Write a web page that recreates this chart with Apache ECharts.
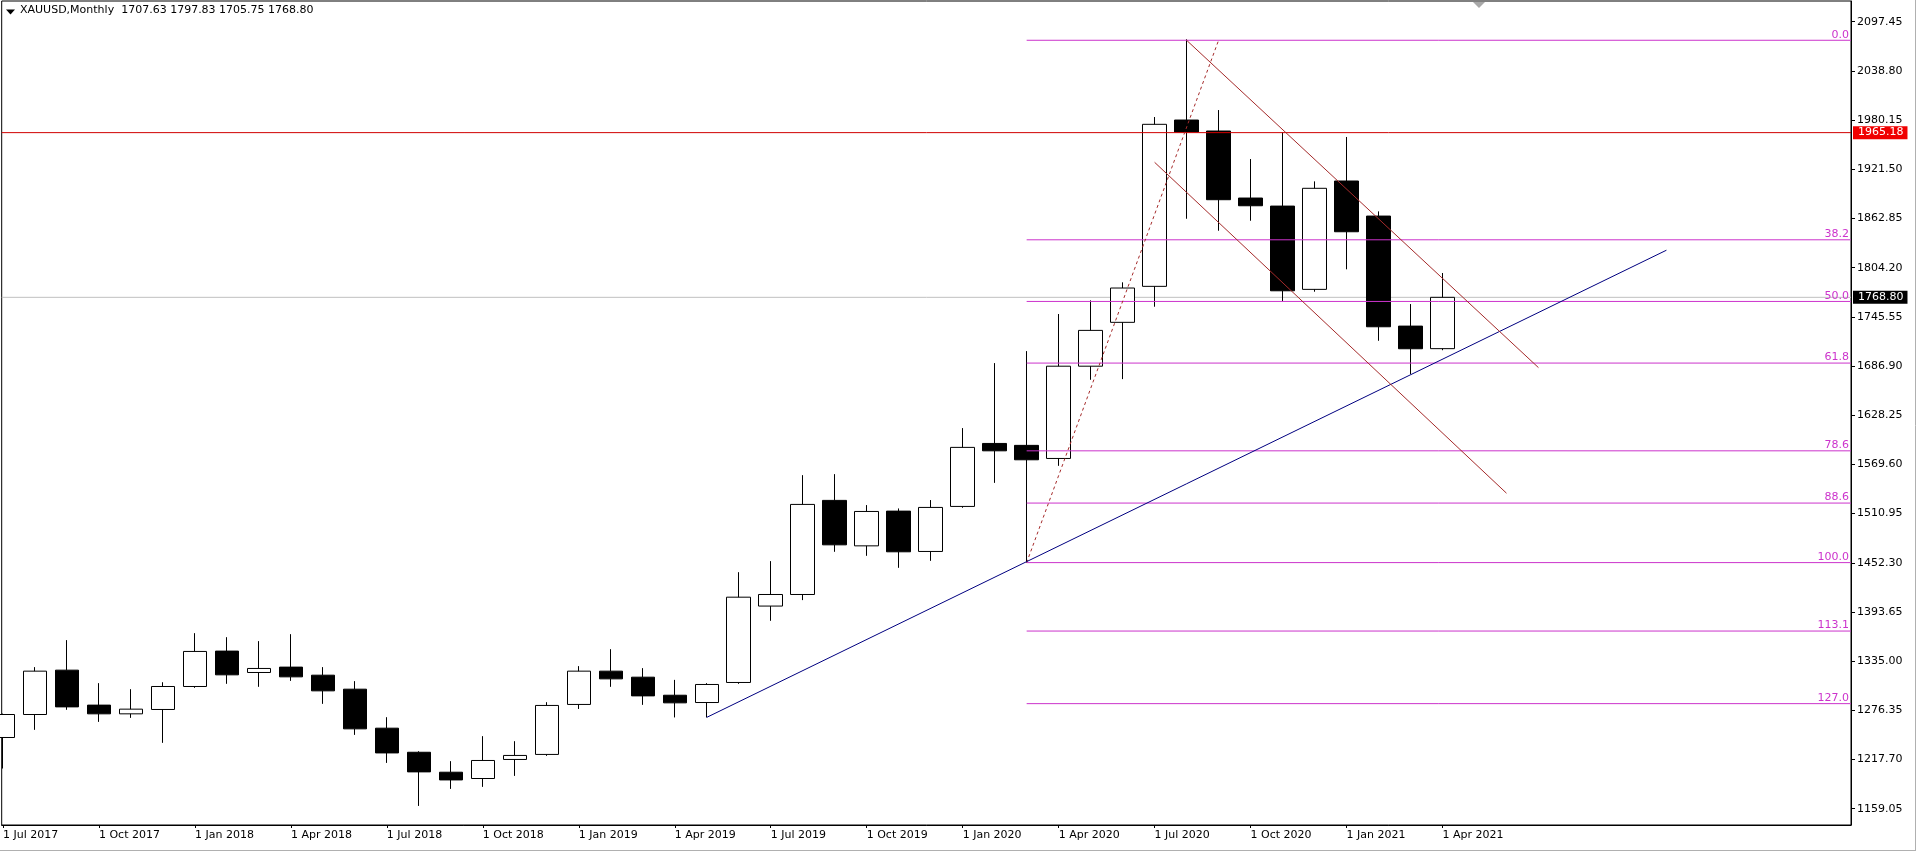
<!DOCTYPE html>
<html><head><meta charset="utf-8">
<script src="https://cdn.jsdelivr.net/npm/echarts@6/dist/echarts.min.js"></script>
<style>html,body{margin:0;padding:0;background:#fff;overflow:hidden;} #c{width:1918px;height:853px;}</style>
</head><body><div id="c"></div>
<script>
// ---- data (monthly XAUUSD, Jul 2017 .. Apr 2021) ----
const months = ['Jul 2017','Aug 2017','Sep 2017','Oct 2017','Nov 2017','Dec 2017',
  'Jan 2018','Feb 2018','Mar 2018','Apr 2018','May 2018','Jun 2018','Jul 2018','Aug 2018','Sep 2018','Oct 2018','Nov 2018','Dec 2018',
  'Jan 2019','Feb 2019','Mar 2019','Apr 2019','May 2019','Jun 2019','Jul 2019','Aug 2019','Sep 2019','Oct 2019','Nov 2019','Dec 2019',
  'Jan 2020','Feb 2020','Mar 2020','Apr 2020','May 2020','Jun 2020','Jul 2020','Aug 2020','Sep 2020','Oct 2020','Nov 2020','Dec 2020',
  'Jan 2021','Feb 2021','Mar 2021','Apr 2021'];
const opens  = [1244.0,1271.4,1324.3,1282.6,1272.2,1277.4,1304.8,1347.0,1321.5,1327.9,1318.3,1301.6,1255.1,1226.4,1202.6,1195.1,1217.8,1223.8,
  1283.4,1323.1,1315.9,1294.4,1285.7,1309.6,1400.7,1414.5,1526.7,1472.5,1513.9,1465.8,
  1519.5,1594.6,1592.3,1576.7,1686.7,1739.0,1781.9,1980.2,1967.1,1887.2,1877.6,1778.3,1907.5,1865.7,1734.5,1707.63];
const highs  = [1272.5,1327.9,1360.1,1308.8,1301.6,1309.9,1368.4,1363.6,1358.9,1367.2,1327.9,1311.2,1268.2,1227.6,1215.8,1245.6,1239.6,1286.1,
  1329.1,1349.3,1326.7,1312.7,1308.8,1441.1,1454.3,1556.8,1558.0,1521.1,1517.1,1527.1,
  1612.9,1690.4,1704.7,1748.9,1765.2,1786.7,1983.8,2076.5,1992.1,1933.7,1965.5,1907.1,1960.0,1871.3,1760.8,1797.83];
const lows   = [1207.0,1253.1,1277.0,1262.6,1267.4,1237.6,1303.2,1308.0,1304.4,1311.5,1284.1,1247.1,1213.7,1162.4,1182.7,1185.1,1198.2,1222.1,
  1278.0,1304.4,1282.9,1267.9,1267.9,1308.0,1383.1,1407.8,1465.4,1460.6,1446.3,1454.6,
  1517.9,1547.6,1452.7,1567.9,1670.5,1671.3,1757.6,1862.5,1848.2,1860.1,1764.3,1775.5,1802.2,1717.0,1677.3,1705.75];
const closes = [1271.4,1323.1,1280.5,1272.2,1277.8,1304.8,1346.6,1318.7,1326.3,1316.3,1299.6,1254.3,1225.6,1203.0,1193.4,1216.6,1222.6,1282.2,
  1323.1,1313.9,1293.6,1285.3,1307.2,1411.3,1414.5,1521.9,1473.7,1513.5,1465.4,1518.3,
  1589.9,1585.8,1575.1,1686.7,1729.4,1779.9,1975.1,1965.9,1885.2,1878.0,1776.6,1898.8,1847.0,1733.7,1707.5,1768.80];

const xTickIdx    = [0,3,6,9,12,15,18,21,24,27,30,33,36,39,42,45];
const xTickLabels = ['1 Jul 2017','1 Oct 2017','1 Jan 2018','1 Apr 2018','1 Jul 2018','1 Oct 2018','1 Jan 2019','1 Apr 2019',
  '1 Jul 2019','1 Oct 2019','1 Jan 2020','1 Apr 2020','1 Jul 2020','1 Oct 2020','1 Jan 2021','1 Apr 2021'];
const yTicks = [1159.05,1217.70,1276.35,1335.00,1393.65,1452.30,1510.95,1569.60,1628.25,1686.90,1745.55,1804.20,1862.85,1921.50,1980.15,2038.80,2097.45];

const fibLevels = [0, 38.2, 50, 61.8, 78.6, 88.6, 100, 113.1, 127];
const fibHigh = 2075.3, fibLow = 1452.5, fibStartIdx = 32;
const fibBase      = [[32, 1452.5], [38, 2075.3]];
const trendBlue    = [[22, 1268.0], [52, 1825.0]];
const channelUpper = [[37, 2075.3], [48, 1685.0]];
const channelLower = [[36, 1929.8], [47, 1535.3]];
const resistance = 1965.18;
const lastPrice = 1768.80;
const titleText = 'XAUUSD,Monthly  1707.63 1797.83 1705.75 1768.80';

// ---- axes extents ----
const xMin = -0.0406, xMax = 57.77;
const yMin = 1139.66, yMax = 2122.13;
const FONT = 'DejaVu Sans';
const FIB = '#CC33CC';

const candleData = months.map((m, i) => [i, opens[i], closes[i], lows[i], highs[i]]);
const fibPrice = l => fibHigh - l / 100 * (fibHigh - fibLow);

const fibSeries = fibLevels.map(l => ({
  type: 'line', z: 3, silent: true, showSymbol: false, color: FIB,
  data: [[fibStartIdx, fibPrice(l)], [xMax, fibPrice(l)]],
  lineStyle: {color: FIB, width: 1},
  emphasis: {disabled: true},
  endLabel: {show: true, formatter: () => l.toFixed(1), color: FIB, fontFamily: FONT, fontSize: 11,
    distance: 0, align: 'right', verticalAlign: 'bottom', offset: [-2, 0]}
}));

const chart = echarts.init(document.getElementById('c'), null, {renderer: 'canvas'});
chart.setOption({
  animation: false,
  backgroundColor: '#fff',
  tooltip: {show: false},
  grid: {left: 1, top: 1, width: 1850, height: 824, show: true, borderColor: '#000', borderWidth: 1, backgroundColor: 'transparent'},
  xAxis: {
    type: 'value', min: xMin, max: xMax,
    splitLine: {show: false},
    axisPointer: {show: false},
    axisLine: {show: true, onZero: false, lineStyle: {color: '#000', width: 1}},
    axisTick: {show: true, length: 3, lineStyle: {color: '#000'}, customValues: xTickIdx},
    axisLabel: {
      customValues: xTickIdx, align: 'left', margin: 5,
      fontFamily: FONT, fontSize: 11, color: '#000',
      formatter: v => xTickLabels[xTickIdx.indexOf(Math.round(v))] || ''
    }
  },
  yAxis: {
    type: 'value', position: 'right', min: yMin, max: yMax,
    splitLine: {show: false},
    axisPointer: {show: false},
    axisLine: {show: true, onZero: false, lineStyle: {color: '#000', width: 1}},
    axisTick: {show: true, inside: false, length: 4, lineStyle: {color: '#000'}, customValues: yTicks},
    axisLabel: {
      customValues: yTicks, margin: 6, fontFamily: FONT, fontSize: 11, color: '#000',
      formatter: v => v.toFixed(2)
    }
  },
  series: [
    { // bid line (under candles)
      type: 'line', data: [[xMin, lastPrice], [xMax, lastPrice]], z: 1, silent: true, showSymbol: false, color: '#C0C0C0',
      lineStyle: {color: '#C0C0C0', width: 1},
      emphasis: {disabled: true},
      endLabel: {show: true, distance: 2, formatter: () => lastPrice.toFixed(2),
        backgroundColor: '#000', color: '#fff', fontFamily: FONT, fontSize: 11, padding: [1, 4, 0, 5], lineHeight: 12}
    },
    {
      type: 'candlestick', z: 2, barWidth: 24, clip: true, silent: true,
      encode: {x: 0, y: [1, 2, 3, 4]},
      data: candleData,
      itemStyle: {color: '#fff', color0: '#000', borderColor: '#000', borderColor0: '#000', borderWidth: 1}
    },
    ...fibSeries,
    { // resistance line
      type: 'line', data: [[xMin, resistance], [xMax, resistance]], z: 4, silent: true, showSymbol: false, color: '#D00000',
      lineStyle: {color: '#D00000', width: 1},
      emphasis: {disabled: true},
      endLabel: {show: true, distance: 2, formatter: () => resistance.toFixed(2),
        backgroundColor: '#F00000', color: '#fff', fontFamily: FONT, fontSize: 11, padding: [1, 4, 0, 5], lineHeight: 12}
    },
    {type: 'line', data: fibBase, z: 4, showSymbol: false, silent: true, color: '#A52A2A', lineStyle: {color: '#A52A2A', width: 1, type: [3, 3]}},
    {type: 'line', data: trendBlue, z: 4, showSymbol: false, silent: true, color: '#000080', lineStyle: {color: '#000080', width: 1}},
    {type: 'line', data: channelUpper, z: 4, showSymbol: false, silent: true, color: '#A52A2A', lineStyle: {color: '#A52A2A', width: 1}},
    {type: 'line', data: channelLower, z: 4, showSymbol: false, silent: true, color: '#A52A2A', lineStyle: {color: '#A52A2A', width: 1}}
  ],
  graphic: [
    {type: 'polygon', shape: {points: [[6, 9.5], [15, 9.5], [10.5, 14.5]]}, style: {fill: '#000'}, z: 10},
    {type: 'text', left: 20, top: 5, style: {text: titleText, fontFamily: FONT, fontSize: 11, fill: '#000'}, z: 10},
    {type: 'polygon', shape: {points: [[1473, 2], [1485, 2], [1479, 8]]}, style: {fill: '#A8A8A8'}, z: 10},
    {type: 'line', shape: {x1: 1915.5, y1: 0, x2: 1915.5, y2: 851}, style: {stroke: '#B0B0B0', lineWidth: 1}, z: 10},
    {type: 'line', shape: {x1: 0, y1: 850.5, x2: 1916, y2: 850.5}, style: {stroke: '#B0B0B0', lineWidth: 1}, z: 10}
  ]
});
</script>
</body></html>
